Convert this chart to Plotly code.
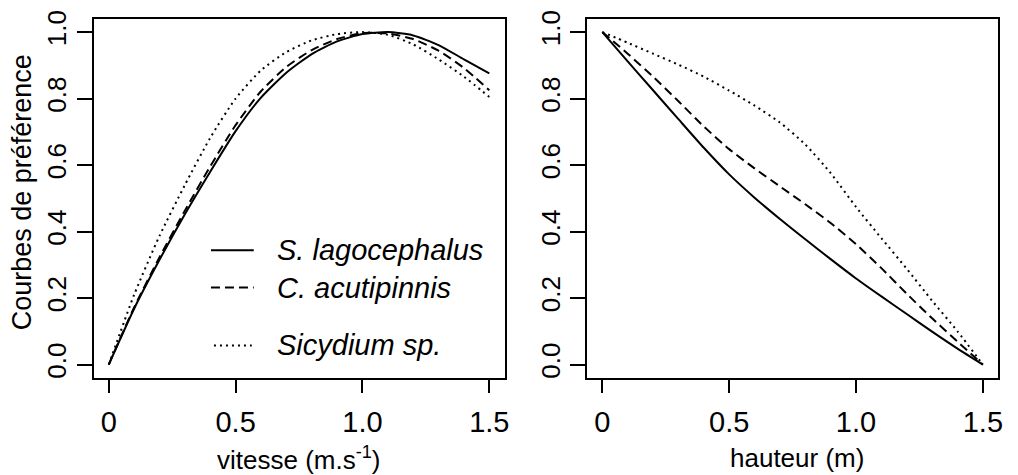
import plotly.graph_objects as go

# ---------------- data ----------------
x_grid = [0.0, 0.1, 0.2, 0.3, 0.4, 0.5, 0.6, 0.7, 0.8, 0.9, 1.0, 1.1, 1.2, 1.3, 1.4, 1.5]

# left panel: vitesse (m.s-1)
vit_lagocephalus = [0.0, 0.168, 0.315, 0.452, 0.58, 0.702, 0.803, 0.878, 0.934, 0.972, 0.994, 1.0, 0.99, 0.961, 0.918, 0.876]
vit_acutipinnis = [0.0, 0.172, 0.323, 0.463, 0.596, 0.72, 0.822, 0.895, 0.946, 0.979, 0.997, 0.996, 0.979, 0.944, 0.892, 0.825]
vit_sicydium = [0.0, 0.21, 0.387, 0.54, 0.682, 0.8, 0.885, 0.94, 0.975, 0.994, 1.0, 0.992, 0.963, 0.918, 0.866, 0.805]

# right panel: hauteur (m)
hau_lagocephalus = [1.0, 0.912, 0.825, 0.738, 0.652, 0.572, 0.502, 0.438, 0.377, 0.317, 0.259, 0.205, 0.152, 0.099, 0.048, 0.0]
hau_acutipinnis = [1.0, 0.935, 0.866, 0.792, 0.716, 0.648, 0.59, 0.536, 0.482, 0.426, 0.362, 0.29, 0.213, 0.139, 0.069, 0.0]
hau_sicydium = [1.0, 0.968, 0.935, 0.902, 0.866, 0.824, 0.779, 0.728, 0.662, 0.576, 0.474, 0.38, 0.288, 0.192, 0.1, 0.0]

species = ["S. lagocephalus", "C. acutipinnis", "Sicydium sp."]
x_tickvals = [0, 0.5, 1.0, 1.5]
x_ticktext = ["0", "0.5", "1.0", "1.5"]
y_tickvals = [0, 0.2, 0.4, 0.6, 0.8, 1.0]
y_ticktext = ["0.0", "0.2", "0.4", "0.6", "0.8", "1.0"]

# ---------------- styling ----------------
W, H = 1018, 475
FONT = "Liberation Sans, Arial, Helvetica, sans-serif"
dashes = ["solid", "9px,5px", "2px,4px"]


def fx(p):
    return p / W


def fy(p):
    return 1 - p / H


fig = go.Figure()
left_series = [vit_lagocephalus, vit_acutipinnis, vit_sicydium]
right_series = [hau_lagocephalus, hau_acutipinnis, hau_sicydium]
for name, ys, d in zip(species, left_series, dashes):
    fig.add_trace(go.Scatter(x=x_grid, y=ys, mode="lines", name=name,
                             line=dict(color="black", width=2, dash=d, shape="spline", smoothing=0.6),
                             xaxis="x", yaxis="y", showlegend=False))
for name, ys, d in zip(species, right_series, dashes):
    fig.add_trace(go.Scatter(x=x_grid, y=ys, mode="lines", name=name,
                             line=dict(color="black", width=2, dash=d, shape="spline", smoothing=0.6),
                             xaxis="x2", yaxis="y2", showlegend=False))

xcommon = dict(range=[-0.06, 1.56], tickvals=x_tickvals, ticktext=x_ticktext,
               showline=True, linecolor="black", linewidth=2, mirror=True,
               ticks="outside", ticklen=13, tickwidth=2, tickcolor="black",
               showgrid=False, zeroline=False, ticklabelstandoff=4,
               tickfont=dict(family=FONT, size=29, color="black"))
ycommon = dict(range=[-0.04, 1.04], tickvals=y_tickvals, ticktext=y_ticktext,
               showline=True, linecolor="black", linewidth=2, mirror=True,
               ticks="outside", ticklen=15, tickwidth=2, tickcolor="black",
               showgrid=False, zeroline=False, tickangle=-90,
               tickfont=dict(family=FONT, size=26, color="black"),
               domain=[fy(377), fy(11)])

fig.update_layout(
    width=W, height=H,
    margin=dict(l=0, r=0, t=0, b=0),
    paper_bgcolor="white", plot_bgcolor="white",
    font=dict(family=FONT, color="black"),
    xaxis=dict(domain=[fx(94), fx(507)], anchor="y", **xcommon),
    yaxis=dict(anchor="x", **ycommon),
    xaxis2=dict(domain=[fx(590), fx(1003)], anchor="y2", **xcommon),
    yaxis2=dict(anchor="x2", **ycommon),
    showlegend=False,
)

annotations = [
    dict(text="vitesse (m.s<sup>-1</sup>)", x=fx(300), y=fy(459), xref="paper", yref="paper",
         xanchor="center", yanchor="middle", showarrow=False, font=dict(family=FONT, size=26, color="black")),
    dict(text="hauteur (m)", x=fx(801), y=fy(459), xref="paper", yref="paper",
         xanchor="center", yanchor="middle", showarrow=False, font=dict(family=FONT, size=26, color="black")),
    dict(text="Courbes de préférence", x=fx(23), y=fy(188), xref="paper", yref="paper", textangle=-90,
         xanchor="center", yanchor="middle", showarrow=False, font=dict(family=FONT, size=27, color="black")),
]

# legend (inside the left panel)
leg_rows = [247, 285, 344]
leg_x0 = [212, 212, 215]
leg_x1 = [255, 255, 253]
shapes = []
for name, d, yy, a, b in zip(species, dashes, leg_rows, leg_x0, leg_x1):
    shapes.append(dict(type="line", xref="paper", yref="paper", x0=fx(a), x1=fx(b), y0=fy(yy), y1=fy(yy),
                       line=dict(color="black", width=2, dash=d)))
    annotations.append(dict(text=name, x=fx(276), y=fy(yy), xref="paper", yref="paper",
                            xanchor="left", yanchor="middle", showarrow=False,
                            font=dict(family=FONT, size=29, color="black", style="italic")))

fig.update_layout(annotations=annotations, shapes=shapes)
fig.write_html("out.html")
